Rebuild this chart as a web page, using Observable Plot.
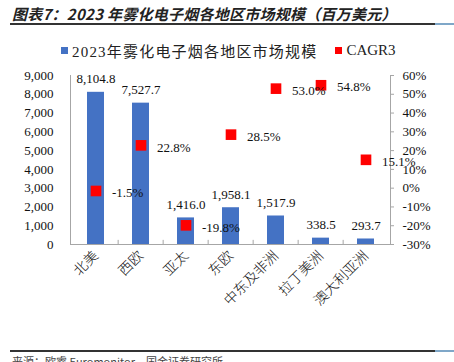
<!DOCTYPE html>
<html>
<head>
<meta charset="utf-8">
<script src="https://cdn.jsdelivr.net/npm/d3@7"></script>
<script src="https://cdn.jsdelivr.net/npm/@observablehq/plot@0.6"></script>
<style>
  html, body { margin: 0; padding: 0; background: #fff; }
  #wrap { position: relative; width: 454px; height: 362px; overflow: hidden; background: #fff; }
  .abs { position: absolute; }
  #title { left: 12px; top: 3px; font-family: "Noto Sans CJK SC", sans-serif; font-weight: bold; font-style: italic; font-size: 15px; letter-spacing: 0.25px; color: #222; white-space: nowrap; }
  .rule { height: 2px; background: #333; }
  .rule2 { height: 2px; background: #7fa7c8; }
  #legend { left: 61px; top: 40px; font-family: "Liberation Serif", "Noto Sans CJK SC", serif; font-size: 15px; color: #222; white-space: nowrap; display: flex; align-items: center; }
  .sw { display: inline-block; width: 7px; height: 7px; margin-right: 4px; }
  #footer { left: 12px; top: 353px; font-family: "Noto Sans CJK SC", sans-serif; font-size: 11px; color: #444; white-space: nowrap; }
  #chart { left: 0; top: 0; }
</style>
</head>
<body>
<div id="wrap">
  <div id="title" class="abs">图表7：2023 年雾化电子烟各地区市场规模（百万美元）</div>
  <div class="abs rule" style="left:10px; top:23px; width:425px;"></div>
  <div class="abs rule2" style="left:435px; top:23px; width:19px;"></div>
  <div id="chart" class="abs"></div>
  <div id="legend" class="abs"></div>
  <div class="abs rule" style="left:10px; top:350px; width:425px;"></div>
  <div class="abs rule2" style="left:435px; top:350px; width:19px;"></div>
  <div id="footer" class="abs">来源：欧睿 Euromonitor，国金证券研究所</div>
</div>
<script>
const categories = ["北美", "西欧", "亚太", "东欧", "中东及非洲", "拉丁美洲", "澳大利亚洲"];
const marketSize = [8104.8, 7527.7, 1416.0, 1958.1, 1517.9, 338.5, 293.7];
const cagr = [-1.5, 22.8, -19.8, 28.5, 53.0, 54.8, 15.1];
const leftTicks = [0, 1000, 2000, 3000, 4000, 5000, 6000, 7000, 8000, 9000];
const rightTicks = [-30, -20, -10, 0, 10, 20, 30, 40, 50, 60];
const seriesNames = ["2023年雾化电子烟各地区市场规模", "CAGR3"];
const colors = ["#4472C4", "#FF0000"];

const leftMax = 9000, rMin = -30, rMax = 60;
const toLeft = v => (v - rMin) / (rMax - rMin) * leftMax;
const fromLeft = v => v / leftMax * (rMax - rMin) + rMin;

const data = categories.map((c, i) => ({cat: c, size: marketSize[i], cagr: cagr[i]}));

const W = 454, H = 362, mL = 70, mR = 64;
const bw = (W - mL - mR) / categories.length;
const axisColor = "#a6a6a6";
const serif = "'Liberation Serif', 'Noto Sans CJK SC', serif";

const chart = Plot.plot({
  width: W, height: H,
  marginLeft: mL, marginRight: mR, marginTop: 75, marginBottom: 118,
  x: {domain: categories, padding: 0},
  y: {domain: [0, leftMax]},
  style: {fontFamily: serif, fontSize: "13px", color: "#111", background: "transparent", overflow: "visible"},
  marks: [
    Plot.barY(data, {x: "cat", y: "size", fill: colors[0], insetLeft: 14, insetRight: 14}),
    Plot.ruleY([0], {stroke: axisColor}),
    Plot.frame({anchor: "left", stroke: axisColor}),
    Plot.frame({anchor: "right", stroke: axisColor}),
    Plot.ruleX(categories.slice(1), {x: d => d, y1: 0, y2: 220, dx: -bw / 2, stroke: axisColor}),
    Plot.axisY({ticks: leftTicks, tickFormat: d3.format(","), tickSize: 0, tickPadding: 17, label: null, fontSize: 13}),
    Plot.axisY({anchor: "right", ticks: rightTicks.map(toLeft), tickFormat: v => Math.round(fromLeft(v)) + "%", tickSize: 3, tickPadding: 9, stroke: axisColor, label: null, fontSize: 13}),
    Plot.axisX({tickSize: 0, tickRotate: -45, tickPadding: 9, label: null, fontSize: 14, fontFamily: "'Noto Sans CJK SC', sans-serif", fontWeight: 300}),
    Plot.text(data, {x: "cat", y: "size", text: d => d3.format(",.1f")(d.size), dy: -13, fontSize: 13}),
    Plot.dot(data, {x: "cat", y: d => toLeft(d.cagr), symbol: "square", r: 6, fill: colors[1], stroke: null}),
    Plot.text(data, {x: "cat", y: d => toLeft(d.cagr), text: d => d.cagr.toFixed(1) + "%", dx: 16, dy: 2, textAnchor: "start", fontSize: 13})
  ]
});
document.getElementById("chart").appendChild(chart);

const legend = document.getElementById("legend");
seriesNames.forEach((name, i) => {
  const sw = document.createElement("span");
  sw.className = "sw";
  sw.style.background = colors[i];
  const t = document.createElement("span");
  t.textContent = name;
  if (i === 0) { t.style.letterSpacing = "1.2px"; t.style.marginRight = "18px"; }
  legend.appendChild(sw);
  legend.appendChild(t);
});
</script>
</body>
</html>
